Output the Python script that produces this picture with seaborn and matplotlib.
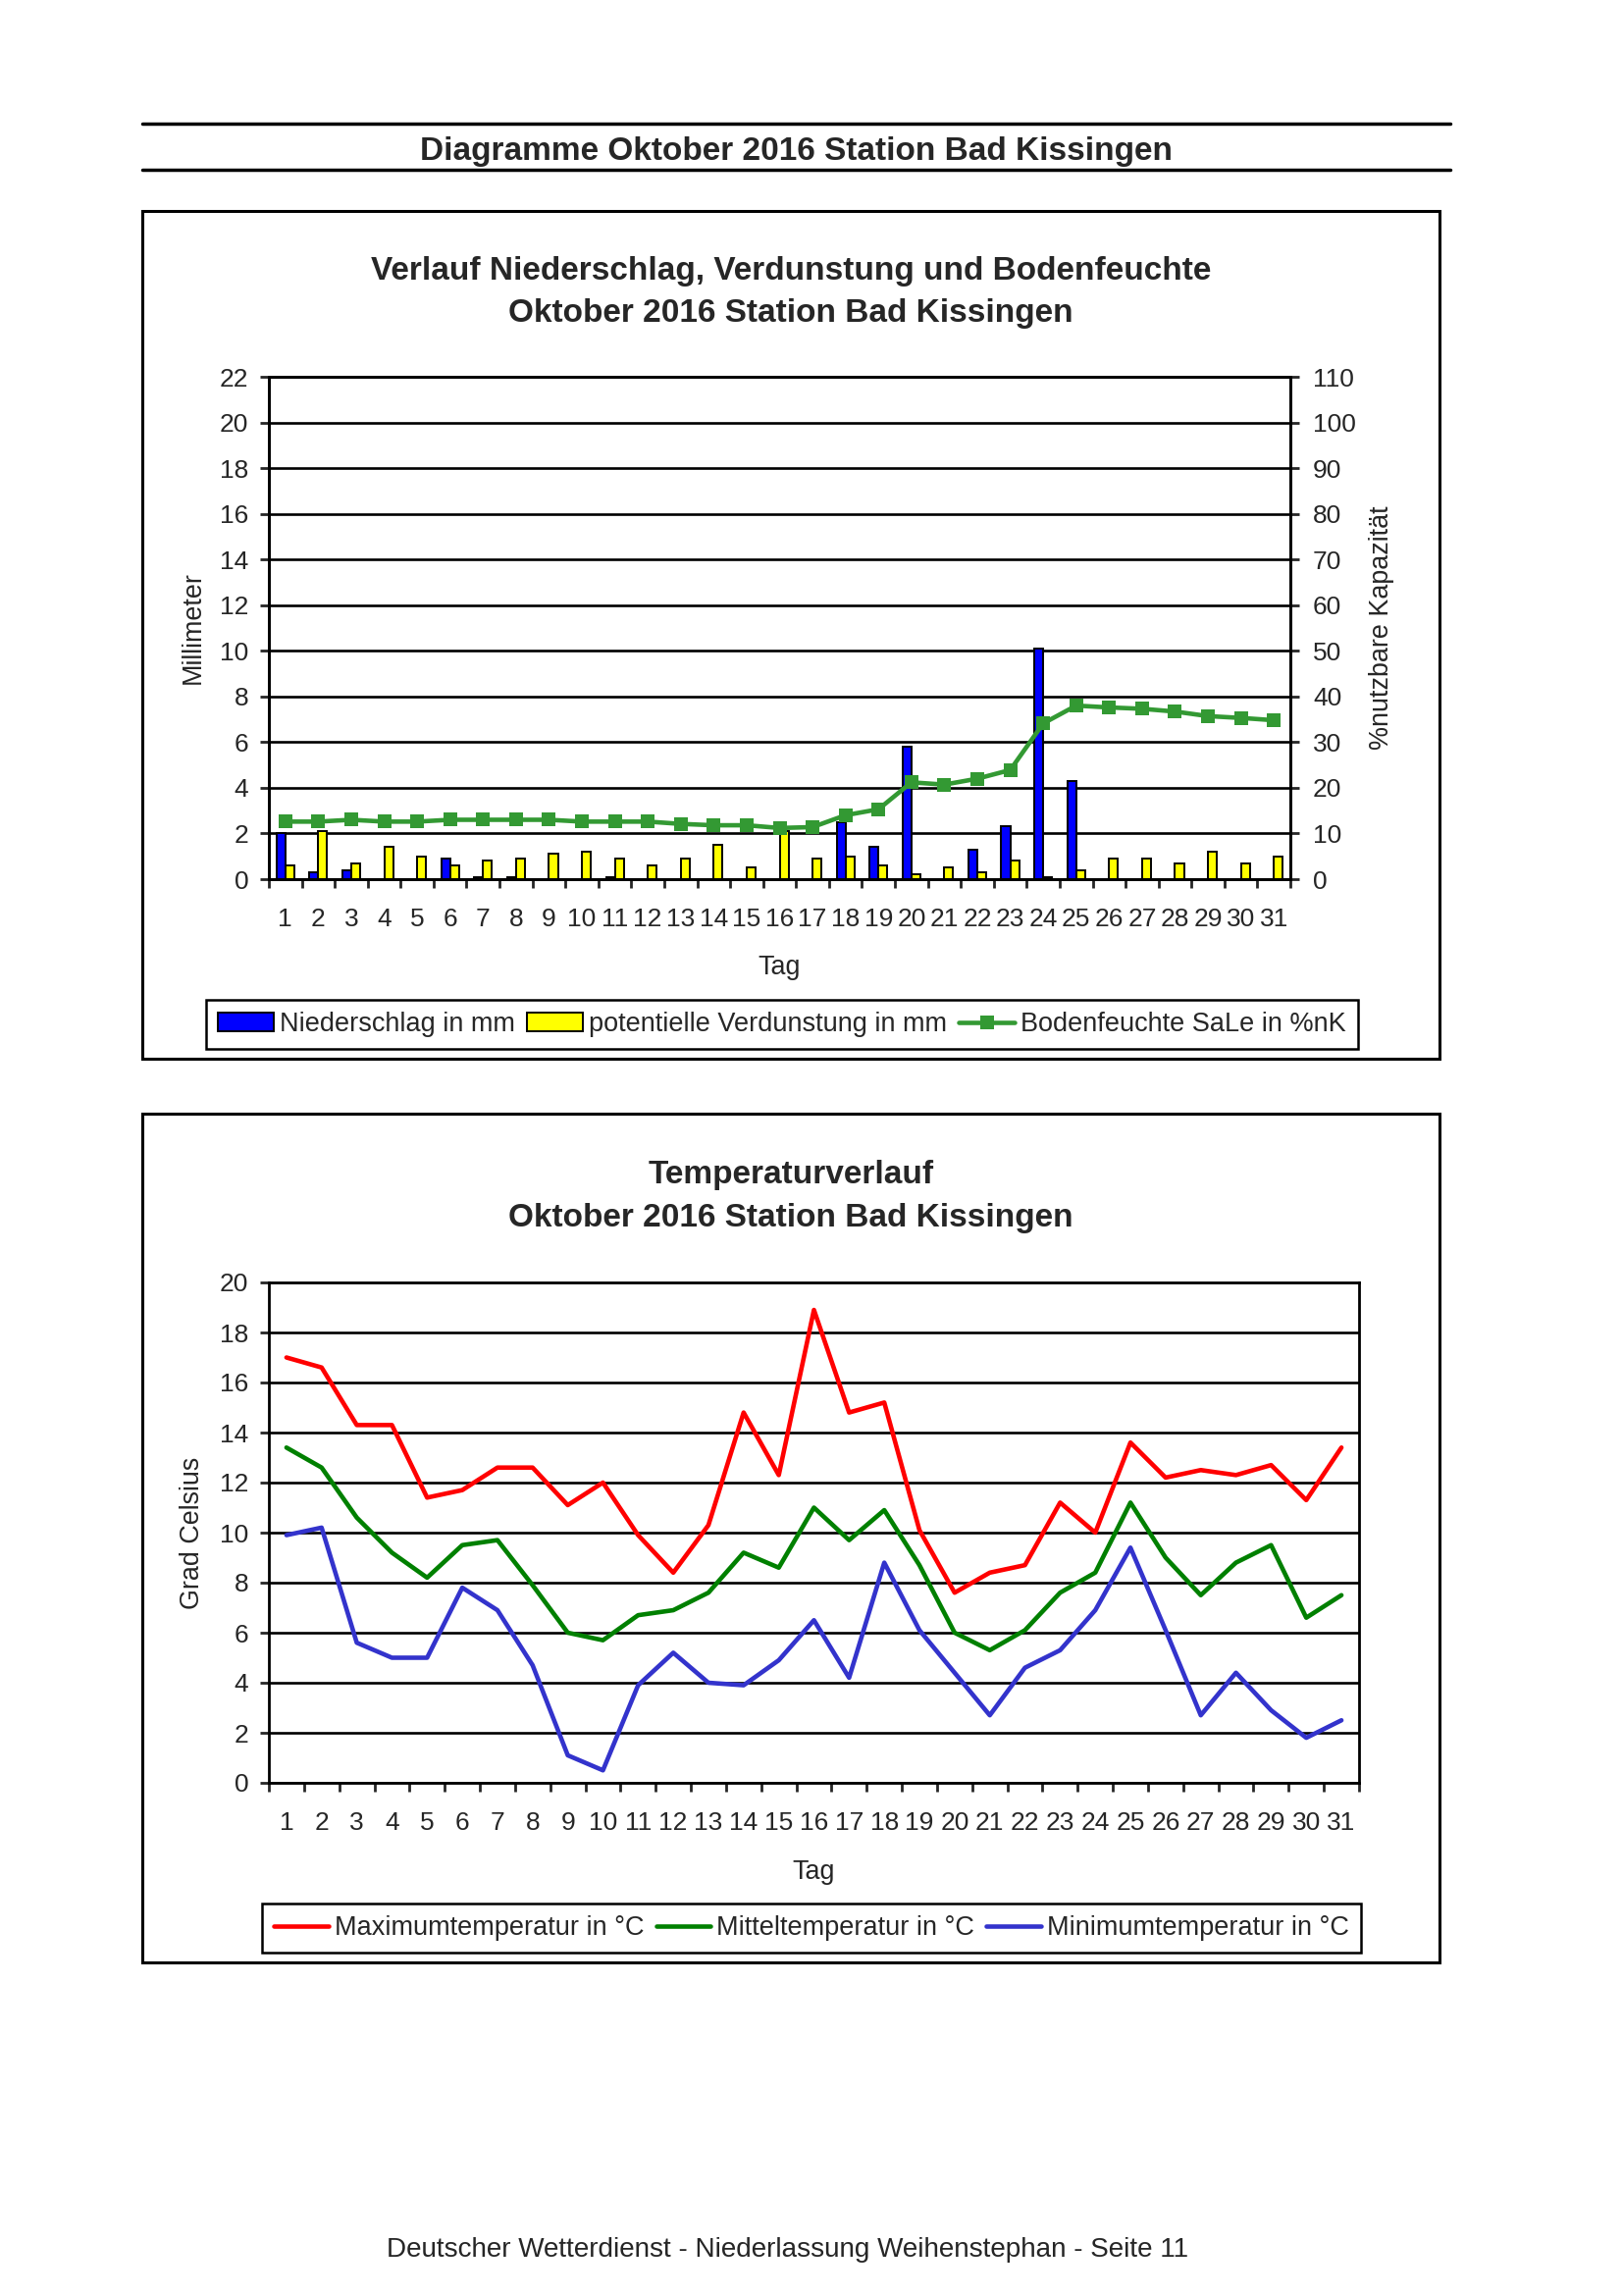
import matplotlib
matplotlib.use("Agg")
import matplotlib.pyplot as plt
from matplotlib.patches import Rectangle, Patch
from matplotlib.lines import Line2D
import seaborn as sns
import numpy as np
import pandas as pd

# Tageswerte Oktober 2016, Station Bad Kissingen
days = list(range(1, 32))
niederschlag = [2.0, 0.3, 0.4, 0.0, 0.0, 0.9, 0.1, 0.1, 0.0, 0.0, 0.1, 0.0, 0.0, 0.0, 0.0, 0.0,
                0.0, 2.5, 1.4, 5.8, 0.0, 1.3, 2.3, 10.1, 4.3, 0.0, 0.0, 0.0, 0.0, 0.0, 0.0]
verdunstung = [0.6, 2.1, 0.7, 1.4, 1.0, 0.6, 0.8, 0.9, 1.1, 1.2, 0.9, 0.6, 0.9, 1.5, 0.5, 2.1,
               0.9, 1.0, 0.6, 0.2, 0.5, 0.3, 0.8, 0.1, 0.4, 0.9, 0.9, 0.7, 1.2, 0.7, 1.0]
bodenfeuchte = [12.6, 12.6, 13.0, 12.6, 12.6, 13.0, 13.0, 13.0, 13.0, 12.6, 12.6, 12.6, 12.1, 11.8,
                11.8, 11.2, 11.4, 14.0, 15.3, 21.2, 20.7, 22.0, 23.9, 34.1, 38.0, 37.6, 37.3, 36.7,
                35.7, 35.3, 34.8]
tmax = [17.0, 16.6, 14.3, 14.3, 11.4, 11.7, 12.6, 12.6, 11.1, 12.0, 9.9, 8.4, 10.3, 14.8, 12.3,
        18.9, 14.8, 15.2, 10.1, 7.6, 8.4, 8.7, 11.2, 10.0, 13.6, 12.2, 12.5, 12.3, 12.7, 11.3, 13.4]
tmit = [13.4, 12.6, 10.6, 9.2, 8.2, 9.5, 9.7, 7.9, 6.0, 5.7, 6.7, 6.9, 7.6, 9.2, 8.6,
        11.0, 9.7, 10.9, 8.7, 6.0, 5.3, 6.1, 7.6, 8.4, 11.2, 9.0, 7.5, 8.8, 9.5, 6.6, 7.5]
tmin = [9.9, 10.2, 5.6, 5.0, 5.0, 7.8, 6.9, 4.7, 1.1, 0.5, 3.9, 5.2, 4.0, 3.9, 4.9,
        6.5, 4.2, 8.8, 6.1, 4.4, 2.7, 4.6, 5.3, 6.9, 9.4, 6.1, 2.7, 4.4, 2.9, 1.8, 2.5]

lab_n = "Niederschlag in mm"
lab_v = "potentielle Verdunstung in mm"
lab_b = "Bodenfeuchte SaLe in %nK"
lab_max = "Maximumtemperatur in °C"
lab_mit = "Mitteltemperatur in °C"
lab_min = "Minimumtemperatur in °C"

sns.set_style("ticks")
plt.rcParams["font.family"] = ["Liberation Sans", "DejaVu Sans"]

W, H, DPI = 1653, 2340, 100
fig = plt.figure(figsize=(W / DPI, H / DPI), dpi=DPI)
fig.patch.set_facecolor("white")


def fx(px):
    return px / W


def fy(py):
    return 1 - py / H


def ax_rect(left, top, right, bottom):
    return [fx(left), fy(bottom), (right - left) / W, (bottom - top) / H]


TICK = 19
LAB = 19.4
LEG = 19.5
LW_AX = 2.0

# ---------- Seitenkopf ----------
for yy in (126, 173):
    fig.add_artist(Line2D([fx(145), fx(1478)], [fy(yy), fy(yy)], transform=fig.transFigure,
                          color="black", lw=2.5))
fig.text(fx(811), fy(163), "Diagramme Oktober 2016 Station Bad Kissingen", ha="center",
         va="baseline", fontsize=24, fontweight="bold")

# Rahmen der beiden Diagramme
for top, bottom in ((215, 1079), (1135, 2000)):
    fig.add_artist(Rectangle((fx(145), fy(bottom)), (1467 - 145) / W, (bottom - top) / H,
                             transform=fig.transFigure, fill=False, edgecolor="black", lw=2.2))

# ---------- Diagramm 1: Niederschlag, Verdunstung, Bodenfeuchte ----------
fig.text(fx(806), fy(285), "Verlauf Niederschlag, Verdunstung und Bodenfeuchte", ha="center",
         va="baseline", fontsize=24, fontweight="bold")
fig.text(fx(806), fy(328), "Oktober 2016 Station Bad Kissingen", ha="center",
         va="baseline", fontsize=24, fontweight="bold")

ax1 = fig.add_axes(ax_rect(274, 384, 1315, 896))
bars = pd.DataFrame({
    "Tag": days + days,
    "Wert": niederschlag + verdunstung,
    "Reihe": [lab_n] * len(days) + [lab_v] * len(days),
})
sns.barplot(data=bars, x="Tag", y="Wert", hue="Reihe", hue_order=[lab_n, lab_v],
            palette={lab_n: "#0000FF", lab_v: "#FFFF00"}, native_scale=True, width=0.54,
            saturation=1, edgecolor="black", linewidth=1.4, errorbar=None, legend=False, ax=ax1)
ax1.set_ylim(0, 22)
ax1.set_yticks(np.arange(0, 23, 2))
ax1.grid(axis="y", color="black", lw=1.9)
ax1.set_axisbelow(True)

ax2 = ax1.twinx()
sns.lineplot(x=days, y=bodenfeuchte, ax=ax2, color="#339933", lw=3.3, marker="s",
             markersize=10, markeredgewidth=0, legend=False)
ax2.set_ylim(0, 110)
ax2.set_yticks(np.arange(0, 111, 10))

for a in (ax1, ax2):
    a.set_xlim(0.5, 31.5)
    for sp in a.spines.values():
        sp.set_visible(True)
        sp.set_linewidth(LW_AX)
        sp.set_color("black")

ax1.set_xticks(days)
ax1.set_xticklabels([str(d) for d in days])
ax1.set_xticks(np.arange(0.5, 32, 1), minor=True)
ax1.tick_params(axis="x", which="major", length=0, pad=21, labelsize=TICK)
ax1.tick_params(axis="x", which="minor", length=6.5, width=LW_AX, direction="out")
ax1.tick_params(axis="y", length=6.5, width=LW_AX, pad=8.5, labelsize=TICK, direction="out")
ax2.tick_params(axis="y", length=6.5, width=LW_AX, pad=10, labelsize=TICK, direction="out")

ax1.set_xlabel("Tag", fontsize=LAB)
ax1.xaxis.set_label_coords(0.5, -0.150)
ax1.set_ylabel("Millimeter", fontsize=LAB)
ax1.yaxis.set_label_coords(-0.062, 0.5)
ax2.set_ylabel("%nutzbare Kapazität", fontsize=LAB)
ax2.yaxis.set_label_coords(1.077, 0.5)

handles1 = [Patch(facecolor="#0000FF", edgecolor="black", linewidth=1.4),
            Patch(facecolor="#FFFF00", edgecolor="black", linewidth=1.4),
            Line2D([], [], color="#339933", lw=3.3, marker="s", markersize=10, markeredgewidth=0)]
leg1 = fig.legend(handles1, [lab_n, lab_v, lab_b], loc="center",
                  bbox_to_anchor=(fx(797), fy(1044)), ncol=3, fontsize=LEG, frameon=True,
                  fancybox=False, edgecolor="black", framealpha=1, handlelength=2.1,
                  handletextpad=0.22, columnspacing=0.45, borderpad=0.45)
leg1.get_frame().set_linewidth(1.8)

# ---------- Diagramm 2: Temperaturverlauf ----------
fig.text(fx(806), fy(1206), "Temperaturverlauf", ha="center", va="baseline", fontsize=24,
         fontweight="bold")
fig.text(fx(806), fy(1250), "Oktober 2016 Station Bad Kissingen", ha="center", va="baseline",
         fontsize=24, fontweight="bold")

ax3 = fig.add_axes(ax_rect(274, 1307, 1385, 1817))
temps = pd.DataFrame({
    "Tag": days * 3,
    "Temperatur": tmax + tmit + tmin,
    "Reihe": [lab_max] * len(days) + [lab_mit] * len(days) + [lab_min] * len(days),
})
temp_colors = {lab_max: "#FF0000", lab_mit: "#008000", lab_min: "#3333CC"}
sns.lineplot(data=temps, x="Tag", y="Temperatur", hue="Reihe", hue_order=[lab_max, lab_mit, lab_min],
             palette=temp_colors, lw=3.3, errorbar=None, legend=False, ax=ax3)
ax3.set_xlim(0.5, 31.5)
ax3.set_ylim(0, 20)
ax3.set_yticks(np.arange(0, 21, 2))
ax3.grid(axis="y", color="black", lw=1.9)
ax3.set_axisbelow(True)
for sp in ax3.spines.values():
    sp.set_visible(True)
    sp.set_linewidth(LW_AX)
    sp.set_color("black")
ax3.set_xticks(days)
ax3.set_xticklabels([str(d) for d in days])
ax3.set_xticks(np.arange(0.5, 32, 1), minor=True)
ax3.tick_params(axis="x", which="major", length=0, pad=21, labelsize=TICK)
ax3.tick_params(axis="x", which="minor", length=6.5, width=LW_AX, direction="out")
ax3.tick_params(axis="y", length=6.5, width=LW_AX, pad=8.5, labelsize=TICK, direction="out")
ax3.set_xlabel("Tag", fontsize=LAB)
ax3.xaxis.set_label_coords(0.5, -0.153)
ax3.set_ylabel("Grad Celsius", fontsize=LAB)
ax3.yaxis.set_label_coords(-0.0585, 0.5)

handles2 = [Line2D([], [], color=temp_colors[k], lw=3.3) for k in (lab_max, lab_mit, lab_min)]
leg2 = fig.legend(handles2, [lab_max, lab_mit, lab_min], loc="center",
                  bbox_to_anchor=(fx(827), fy(1965)), ncol=3, fontsize=LEG, frameon=True,
                  fancybox=False, edgecolor="black", framealpha=1, handlelength=2.05,
                  handletextpad=0.22, columnspacing=0.45, borderpad=0.45)
leg2.get_frame().set_linewidth(1.8)

# ---------- Fusszeile ----------
fig.text(fx(803), fy(2300), "Deutscher Wetterdienst - Niederlassung Weihenstephan - Seite 11",
         ha="center", va="baseline", fontsize=20.1)

fig.savefig("out.png", dpi=DPI, facecolor="white")
